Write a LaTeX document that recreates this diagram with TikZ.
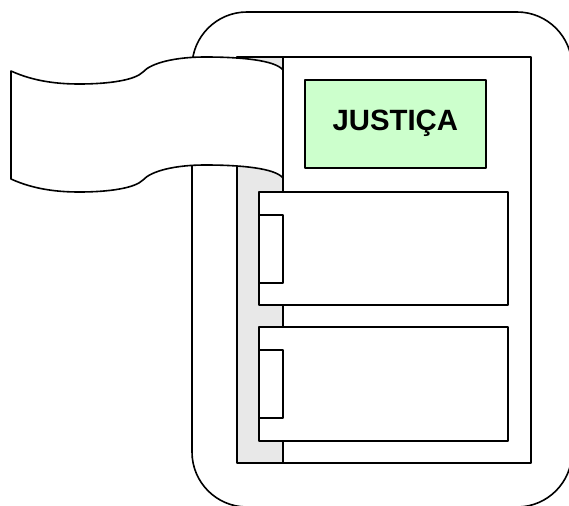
\documentclass[tikz,border=0pt]{standalone}
\usepackage{fontspec}
\setmainfont{Liberation Sans}
\begin{document}
\begin{tikzpicture}[x=0.75pt,y=-0.75pt,
  ln/.style={draw=black,line width=1.2pt,line join=round},
  grayfill/.style={fill=black!9},
  boxfill/.style={ln,fill=white}]
\useasboundingbox (0,0) rectangle (569,506);
\clip (0,0) rectangle (569,506);
% outer rounded frame
\draw[ln,rounded corners=41.25pt,fill=white] (192,12) rectangle (572,507);
% page with gray strip
\fill[grayfill] (237,57) rectangle (283,463);
\draw[ln] (237,57) rectangle (531,463);
\draw[ln] (283,57) -- (283,463);
% title box
\node[ln,fill=green!20,minimum width=181*0.75pt,minimum height=88*0.75pt,anchor=north west,inner sep=0pt,
  font=\fontsize{22}{26}\selectfont\bfseries] (title) at (304,79) {JUSTIÇA};
% box 1
\draw[boxfill] (259,192) rectangle (508,305);
\draw[ln] (259,215) rectangle (283,283);
% box 2
\draw[boxfill] (259,327) rectangle (508,441);
\draw[ln] (259,350) rectangle (283,418);
% banner
\draw[ln,fill=white]
  (11,71) .. controls (35,82) and (60,84) .. (79,84)
  .. controls (110,84) and (135,80) .. (143,72)
  .. controls (151,63) and (175,57) .. (205,57)
  .. controls (240,57) and (275,60) .. (283,70)
  -- (283,178)
  .. controls (275,168) and (240,165) .. (205,165)
  .. controls (175,165) and (151,171) .. (143,180)
  .. controls (135,188) and (110,192) .. (79,192)
  .. controls (60,192) and (35,190) .. (11,179)
  -- cycle;
\end{tikzpicture}
\end{document}
